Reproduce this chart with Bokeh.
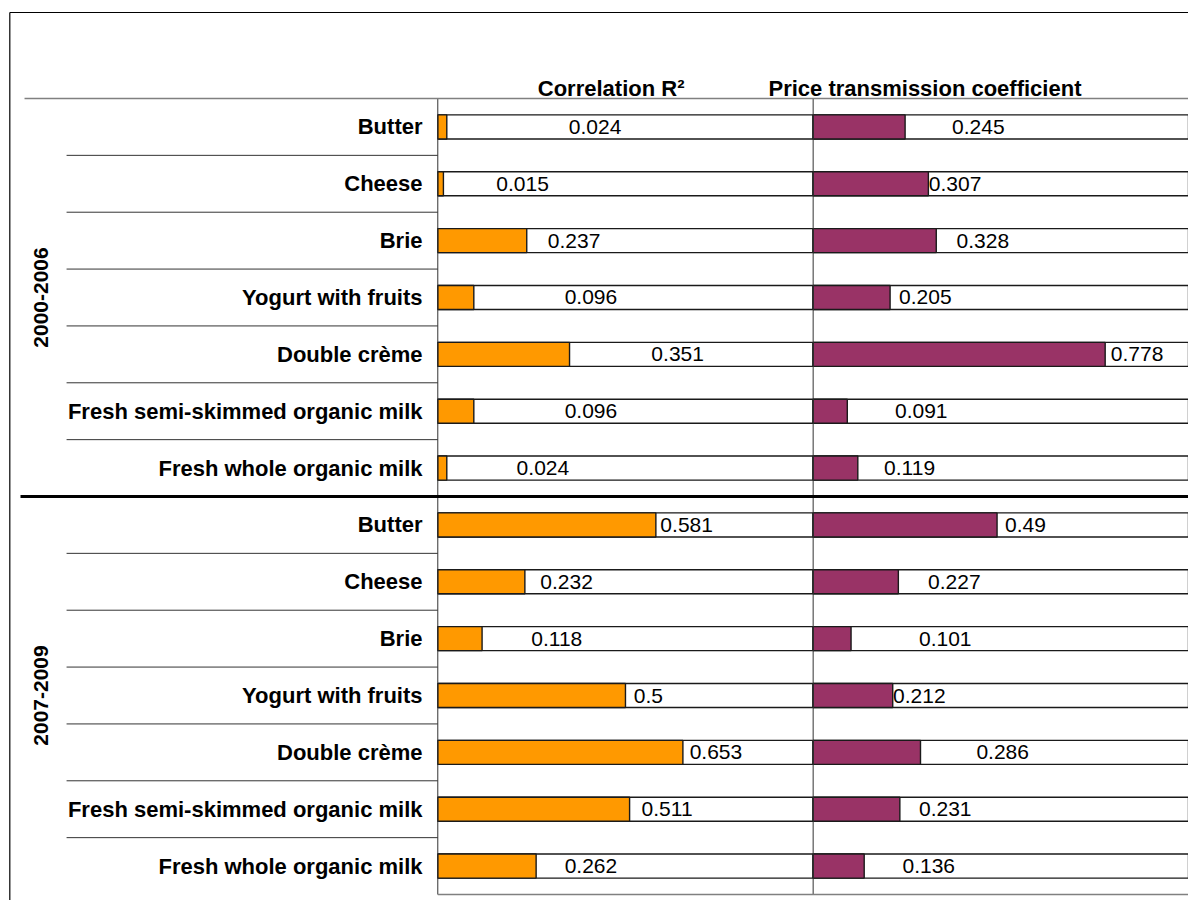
import math
from bokeh.plotting import figure
from bokeh.models import ColumnDataSource, Range1d
from bokeh.transform import dodge
from bokeh.core.properties import value
from bokeh.embed import file_html
from bokeh.resources import INLINE

# ---------------- data ----------------
periods = ["2000-2006", "2007-2009"]
products = ["Butter", "Cheese", "Brie", "Yogurt with fruits", "Double crème",
            "Fresh semi-skimmed organic milk", "Fresh whole organic milk"]
col_titles = ["Correlation R²", "Price transmission coefficient"]

r2_2000_2006 = [0.024, 0.015, 0.237, 0.096, 0.351, 0.096, 0.024]
r2_2007_2009 = [0.581, 0.232, 0.118, 0.5, 0.653, 0.511, 0.262]
ptc_2000_2006 = [0.245, 0.307, 0.328, 0.205, 0.778, 0.091, 0.119]
ptc_2007_2009 = [0.49, 0.227, 0.101, 0.212, 0.286, 0.231, 0.136]

# label gaps after the bar end (axis units), as placed in the original
r2_label_gap = [0.325, 0.141, 0.056, 0.242, 0.218, 0.242, 0.186,
                0.012, 0.041, 0.131, 0.022, 0.018, 0.032, 0.076]
ptc_label_gap = [0.125, 0.001, 0.054, 0.024, 0.015, 0.127, 0.070,
                 0.021, 0.079, 0.181, 0.001, 0.149, 0.051, 0.102]

# ---------------- layout constants ----------------
COL2 = 1.0            # offset of the second column on the shared x axis
BAR_H = 0.423
ORANGE = "#FF9900"
PURPLE = "#993366"
EDGE = "#1a1a1a"
FONT = "Liberation Sans"
X0, X1 = -1.165, 2.0
Y_TOP, Y_BOT = -2.2236, 13.6055

n_per = len(products)
rows = list(range(2 * n_per))
r2 = r2_2000_2006 + r2_2007_2009
ptc = ptc_2000_2006 + ptc_2007_2009

src = ColumnDataSource(dict(
    row=rows,
    product=products * 2,
    r2=r2,
    ptc=ptc,
    r2_lab=[str(v) for v in r2],
    ptc_lab=[str(v) for v in ptc],
    r2_lx=[v + g for v, g in zip(r2, r2_label_gap)],
    ptc_lx=[v + g for v, g in zip(ptc, ptc_label_gap)],
    c1_left=[0.0] * len(rows),
    c1_right=[1.0] * len(rows),
    c2_left=[COL2] * len(rows),
    c2_right=[COL2 + 1.0] * len(rows),
))

p = figure(width=1188, height=900,
           x_range=Range1d(X0, X1),
           y_range=Range1d(Y_BOT, Y_TOP),
           x_axis_location=None, y_axis_location=None,
           output_backend="svg", toolbar_location=None,
           min_border_left=0, min_border_top=0,
           min_border_right=0, min_border_bottom=0)
p.grid.visible = False
p.outline_line_color = None
p.background_fill_color = "white"
p.border_fill_color = "white"

# outer chart frame (left and top edges)
p.segment(x0=[-1.1402, -1.1402], y0=[-2.0126, -2.0126],
          x1=[-1.1402, X1], y1=[Y_BOT, -2.0126],
          line_color="black", line_width=1.2)

# white full-length boxes
p.hbar(y="row", left="c1_left", right="c1_right", height=BAR_H, fill_color="white",
       line_color=EDGE, line_width=1.4, source=src)
p.hbar(y="row", left="c2_left", right="c2_right", height=BAR_H, fill_color="white",
       line_color=EDGE, line_width=1.4, source=src)

# value bars
p.hbar(y="row", left="c1_left", right="r2", height=BAR_H, fill_color=ORANGE,
       line_color=EDGE, line_width=1.4, source=src)
p.hbar(y="row", left="c2_left", right=dodge("ptc", COL2), height=BAR_H,
       fill_color=PURPLE, line_color=EDGE, line_width=1.4, source=src)

# value labels
p.text(x="r2_lx", y="row", text="r2_lab", source=src,
       text_font=value(FONT), text_font_size="21px", text_color="black",
       text_align="left", text_baseline="middle")
p.text(x=dodge("ptc_lx", COL2), y="row", text="ptc_lab", source=src,
       text_font=value(FONT), text_font_size="21px", text_color="black",
       text_align="left", text_baseline="middle")

# row separators in the label area
inner = [r + 0.5 for r in rows[:-1] if r + 1 != n_per]
p.segment(x0=-0.989, x1=0, y0=inner, y1=inner, line_color="#333333", line_width=1)

# vertical column lines
p.segment(x0=[0, COL2], x1=[0, COL2], y0=-0.5, y1=rows[-1] + 0.5,
          line_color="#333333", line_width=1)

# header line, period separator, bottom line of the plot area
p.segment(x0=-1.101, x1=X1, y0=-0.5, y1=-0.5, line_color="#808080", line_width=1.6)
p.segment(x0=-1.1117, x1=X1, y0=n_per - 0.5, y1=n_per - 0.5,
          line_color="black", line_width=3)
p.segment(x0=0, x1=X1, y0=rows[-1] + 0.5, y1=rows[-1] + 0.5,
          line_color="#808080", line_width=1.6)

# category labels
p.text(x=-0.0407, y="row", text="product", source=src,
       text_font=value(FONT), text_font_size="22px", text_font_style="bold",
       text_color="black", text_align="right", text_baseline="middle")

# period labels (rotated)
p.text(x=-1.0584, y=[(n_per - 1) / 2, n_per + (n_per - 1) / 2], text=periods,
       angle=math.pi / 2, text_font=value(FONT), text_font_size="21px",
       text_font_style="bold", text_color="black",
       text_align="center", text_baseline="middle")

# column titles
p.text(x=[0.2664, 0.881], y=[-0.6812, -0.6812], text=col_titles,
       text_font=value(FONT), text_font_size="22px", text_font_style="bold",
       text_color="black", text_align="left", text_baseline="middle")

open("out.html", "w").write(file_html(p, INLINE))
